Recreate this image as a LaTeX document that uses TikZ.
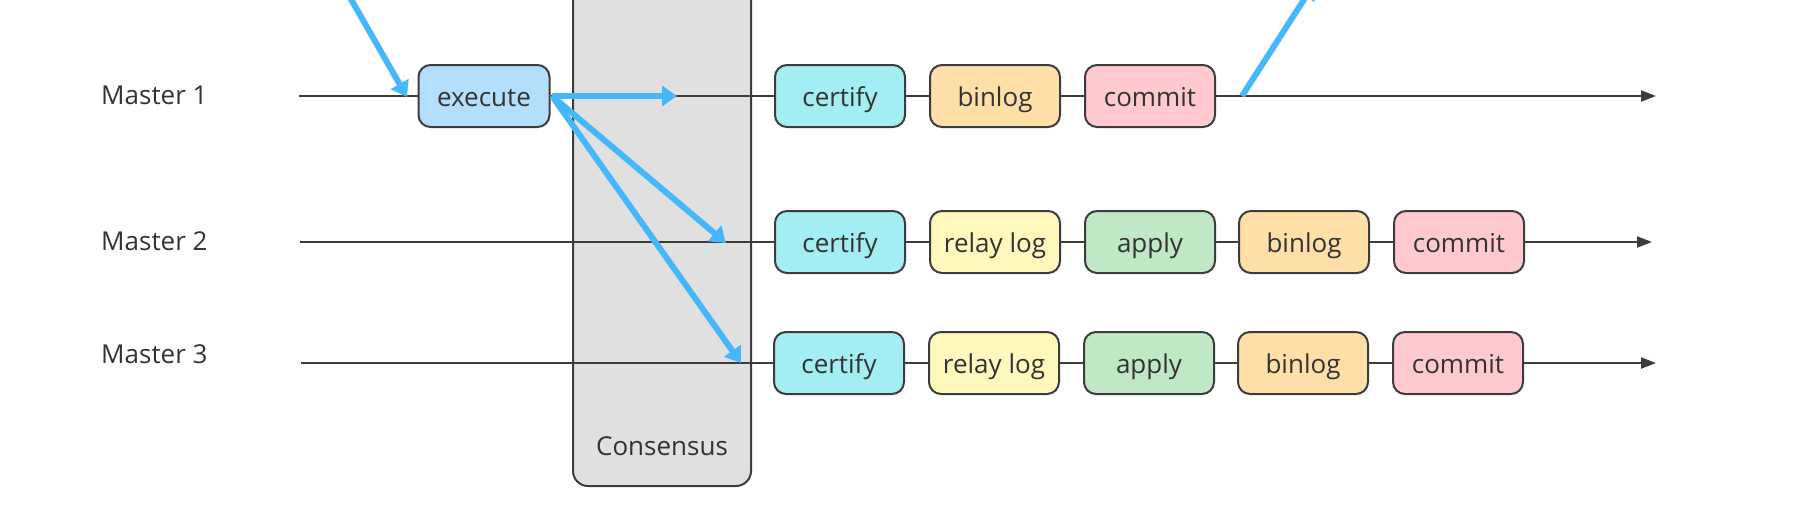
\documentclass[tikz,border=0pt]{standalone}
\usepackage{fontspec}
\setmainfont{Open Sans}
\usetikzlibrary{arrows.meta}
\definecolor{bord}{HTML}{3C3C3C}
\definecolor{txt}{HTML}{333333}
\definecolor{cexec}{HTML}{B3DFFD}
\definecolor{ccert}{HTML}{A2EEF3}
\definecolor{cbin}{HTML}{FFDFA8}
\definecolor{ccom}{HTML}{FFC9D0}
\definecolor{crelay}{HTML}{FFF8BC}
\definecolor{capply}{HTML}{C0E8C6}
\definecolor{ccons}{HTML}{E0E0E0}
\definecolor{cblue}{HTML}{45B8FC}
\tikzset{
  stagebox/.style={draw=bord, line width=2pt, rounded corners=12pt, minimum width=130pt, minimum height=62pt, inner sep=0pt, text height=20pt, text depth=0pt, text=txt, font=\fontsize{26}{30}\selectfont},
  lbl/.style={text=txt, font=\fontsize{26}{30}\selectfont, inner sep=0pt, anchor=base west},
  consbox/.style={draw=bord, fill=ccons, line width=2pt, rounded corners=15pt, minimum width=178pt, minimum height=510pt, inner sep=0pt},
  tl/.style={draw=bord, line width=2pt},
  tlarrow/.style={tl, -{Triangle[length=15pt,width=11pt]}},
  blue/.style={draw=cblue, line width=6pt, -{Triangle[length=15pt,width=20pt]}},
}
\begin{document}
\begin{tikzpicture}[x=1pt,y=-1pt]
\useasboundingbox (0,0) rectangle (1796,514);
\clip (0,0) rectangle (1796,514);
% consensus
\node (cons) [consbox] at (662,231) {};
\node (constext) [text=txt, font=\fontsize{26}{30}\selectfont, inner sep=0pt, anchor=base] at (662,455) {Consensus};
% labels
\node (lab1) [lbl] at (101,104) {Master 1};
\node (lab2) [lbl] at (101,250) {Master 2};
\node (lab3) [lbl] at (101,363) {Master 3};
% coordinates
\coordinate (m1s) at (299,96);
\coordinate (m1e) at (1656,96);
\coordinate (m2s) at (300,242);
\coordinate (m2e) at (1652,242);
\coordinate (m3s) at (301,363);
\coordinate (m3e) at (1656,363);
% row 1
\node (ex) [stagebox, fill=cexec, minimum width=131pt] at (484,96) {execute};
\node (c1) [stagebox, fill=ccert] at (840,96) {certify};
\node (b1) [stagebox, fill=cbin] at (995,96) {binlog};
\node (k1) [stagebox, fill=ccom] at (1150,96) {commit};
% row 2
\node (c2) [stagebox, fill=ccert] at (840,242) {certify};
\node (r2) [stagebox, fill=crelay] at (995,242) {relay log};
\node (a2) [stagebox, fill=capply] at (1150,242) {apply};
\node (b2) [stagebox, fill=cbin] at (1304,242) {binlog};
\node (k2) [stagebox, fill=ccom] at (1459,242) {commit};
% row 3
\node (c3) [stagebox, fill=ccert] at (839,363) {certify};
\node (r3) [stagebox, fill=crelay] at (994,363) {relay log};
\node (a3) [stagebox, fill=capply] at (1149,363) {apply};
\node (b3) [stagebox, fill=cbin] at (1303,363) {binlog};
\node (k3) [stagebox, fill=ccom] at (1458,363) {commit};
% timelines
\draw[tl] (m1s) -- (ex.west);
\draw[tl] (ex.east) -- (c1.west);
\draw[tl] (c1.east) -- (b1.west);
\draw[tl] (b1.east) -- (k1.west);
\draw[tlarrow] (k1.east) -- (m1e);
\draw[tl] (m2s) -- (c2.west);
\draw[tl] (c2.east) -- (r2.west);
\draw[tl] (r2.east) -- (a2.west);
\draw[tl] (a2.east) -- (b2.west);
\draw[tl] (b2.east) -- (k2.west);
\draw[tlarrow] (k2.east) -- (m2e);
\draw[tl] (m3s) -- (c3.west);
\draw[tl] (c3.east) -- (r3.west);
\draw[tl] (r3.east) -- (a3.west);
\draw[tl] (a3.east) -- (b3.west);
\draw[tl] (b3.east) -- (k3.west);
\draw[tlarrow] (k3.east) -- (m3e);
% blue arrows
\coordinate (inS) at (340,-20);
\coordinate (inT) at (407,97);
\coordinate (exO) at (552,96);
\coordinate (t1) at (677,96);
\coordinate (t2) at (726,243);
\coordinate (t3) at (741,363);
\coordinate (outS) at (1242,96);
\coordinate (outT) at (1314,-16);
\draw[blue] (inS) -- (inT);
\draw[blue] (exO) -- (t1);
\draw[blue] (exO) -- (t2);
\draw[blue] (exO) -- (t3);
\draw[blue] (outS) -- (outT);
\end{tikzpicture}
\end{document}
